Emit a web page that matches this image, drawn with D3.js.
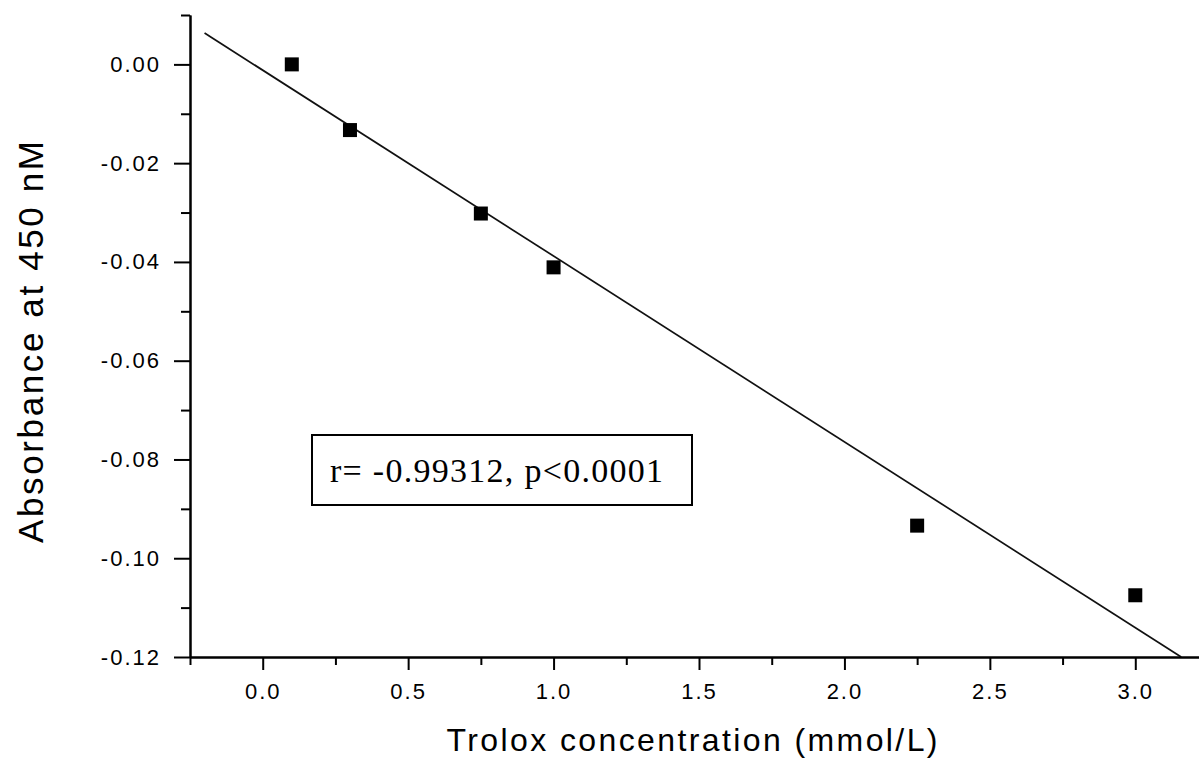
<!DOCTYPE html>
<html>
<head>
<meta charset="utf-8">
<script src="https://cdn.jsdelivr.net/npm/d3@7"></script>
<style>
  html, body { margin: 0; padding: 0; background: #fff; }
  svg { display: block; }
  .tick text { font-family: "Liberation Sans", Arial, sans-serif; font-size: 22px; fill: #000; letter-spacing: 2px; }
</style>
</head>
<body>
<svg id="chart" width="1199" height="760"></svg>
<script>
// Trolox standard curve: concentration vs. absorbance
const concentration = [0.1, 0.3, 0.75, 1.0, 2.25, 3.0];
const absorbance = [0.000, -0.0133, -0.0302, -0.0411, -0.0934, -0.1075];

const xMajorTicks = [0.0, 0.5, 1.0, 1.5, 2.0, 2.5, 3.0];
const xMinorTicks = [-0.25, 0.25, 0.75, 1.25, 1.75, 2.25, 2.75];
const yMajorTicks = [0.00, -0.02, -0.04, -0.06, -0.08, -0.10, -0.12];
const yMinorTicks = [0.01, -0.01, -0.03, -0.05, -0.07, -0.09, -0.11];

const xTitle = "Trolox concentration (mmol/L)";
const yTitle = "Absorbance at 450 nM";
const statsText = "r= -0.99312, p<0.0001";

const svg = d3.select("#chart");

const x = d3.scaleLinear().domain([-0.25, 3.25]).range([190, 1208]);
const y = d3.scaleLinear().domain([-0.12, 0.01]).range([657, 15]);

// Least-squares fit of the points
const mx = d3.mean(concentration), my = d3.mean(absorbance);
const sxy = d3.sum(concentration, (c, i) => (c - mx) * (absorbance[i] - my));
const sxx = d3.sum(concentration, c => (c - mx) ** 2);
const slope = sxy / sxx;
const intercept = my - slope * mx;
const fitStart = -0.2;
const fitEnd = (y.domain()[0] - intercept) / slope;

svg.append("line")
  .attr("x1", x(fitStart)).attr("y1", y(intercept + slope * fitStart))
  .attr("x2", x(fitEnd)).attr("y2", y(intercept + slope * fitEnd))
  .attr("stroke", "#111").attr("stroke-width", 1.7);

// Axes: minor ticks first, then labelled major ticks
function styleAxis(g) {
  g.select(".domain").attr("stroke", "#000").attr("stroke-width", 2);
  g.selectAll(".tick line").attr("stroke", "#000").attr("stroke-width", 2);
}

svg.append("g").attr("transform", `translate(0,${y.range()[0]})`)
  .call(d3.axisBottom(x).tickValues(xMinorTicks).tickSize(8).tickSizeOuter(0).tickFormat(""))
  .call(styleAxis);
svg.append("g").attr("transform", `translate(0,${y.range()[0]})`)
  .call(d3.axisBottom(x).tickValues(xMajorTicks).tickSize(13).tickSizeOuter(0)
    .tickPadding(13).tickFormat(d3.format(".1f")))
  .call(styleAxis);

svg.append("g").attr("transform", `translate(${x.range()[0]},0)`)
  .call(d3.axisLeft(y).tickValues(yMinorTicks).tickSize(9).tickSizeOuter(0).tickFormat(""))
  .call(styleAxis);
svg.append("g").attr("transform", `translate(${x.range()[0]},0)`)
  .call(d3.axisLeft(y).tickValues(yMajorTicks).tickSize(16).tickSizeOuter(0)
    .tickPadding(13).tickFormat(d3.format(".2f")))
  .call(styleAxis);

svg.selectAll(".tick text").text(function () { return this.textContent.replace("−", "-"); });

// Data points
const size = 14;
svg.append("g").selectAll("rect")
  .data(concentration)
  .join("rect")
  .attr("x", d => x(d) - size / 2)
  .attr("y", (d, i) => y(absorbance[i]) - size / 2)
  .attr("width", size).attr("height", size)
  .attr("fill", "#000");

// Correlation annotation
const note = svg.append("g");
note.append("rect")
  .attr("x", 312).attr("y", 435).attr("width", 380).attr("height", 70)
  .attr("fill", "#fff").attr("stroke", "#000").attr("stroke-width", 2);
note.append("text")
  .attr("x", 330).attr("y", 482)
  .attr("textLength", 333).attr("lengthAdjust", "spacing")
  .style("font-family", '"Liberation Serif", "Times New Roman", serif')
  .style("font-size", "34px")
  .text(statsText);

// Axis titles
svg.append("text")
  .attr("x", 692).attr("y", 751)
  .attr("text-anchor", "middle")
  .attr("textLength", 491).attr("lengthAdjust", "spacing")
  .style("font-family", '"Liberation Sans", Arial, sans-serif')
  .style("font-size", "32px")
  .text(xTitle);

svg.append("text")
  .attr("transform", "translate(43,342) rotate(-90)")
  .attr("text-anchor", "middle")
  .attr("textLength", 402).attr("lengthAdjust", "spacing")
  .style("font-family", '"Liberation Sans", Arial, sans-serif')
  .style("font-size", "35px")
  .text(yTitle);
</script>
</body>
</html>
